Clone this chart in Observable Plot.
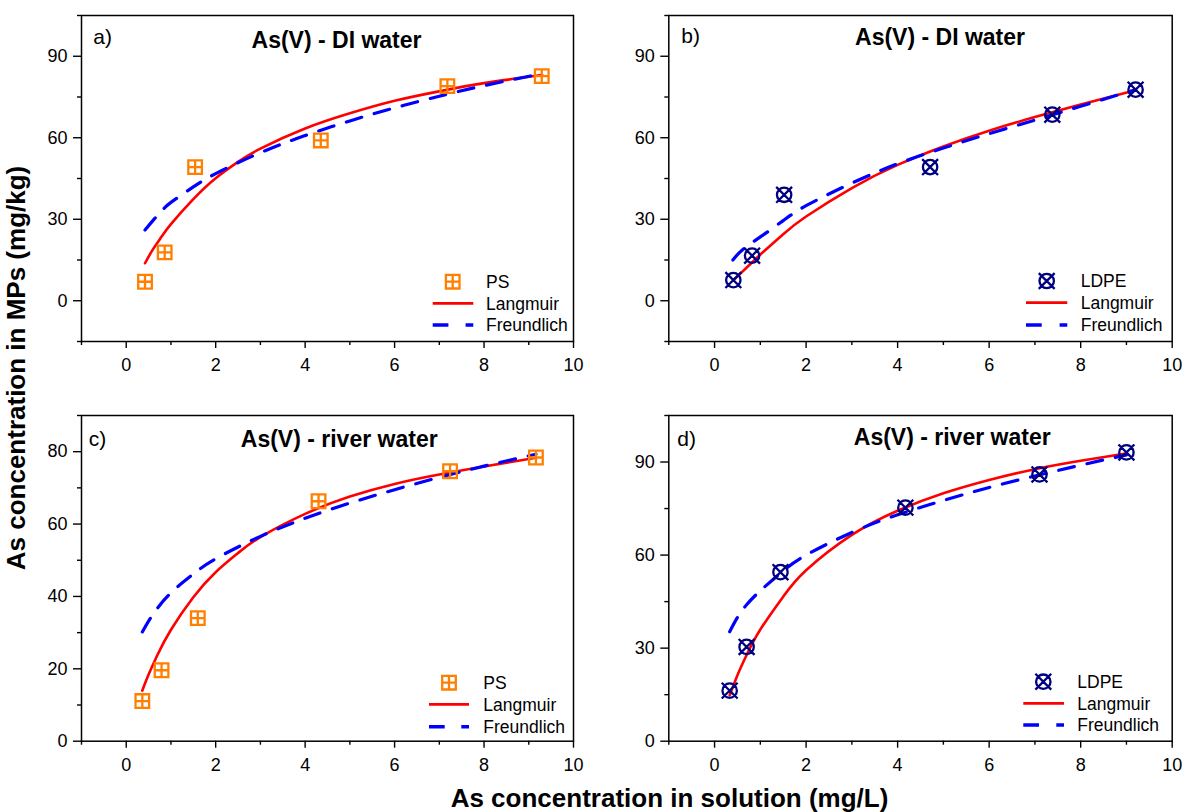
<!DOCTYPE html>
<html><head><meta charset="utf-8">
<script src="https://cdn.jsdelivr.net/npm/d3@7"></script>
<script src="https://cdn.jsdelivr.net/npm/@observablehq/plot@0.6"></script>
<style>
body{margin:0;background:#fff;}
#root{position:relative;width:1189px;height:812px;overflow:hidden;background:#fff;}
</style></head><body><div id="root"></div>
<script>
// ---------- DATA ----------
const xMajor = [0, 2, 4, 6, 8, 10];
const xMinor = [-1, 1, 3, 5, 7, 9];
const yMajor90 = [0, 30, 60, 90];
const yMinorAB = [-15, 15, 45, 75, 105];
const yMajorC = [0, 20, 40, 60, 80];
const yMinorC = [10, 30, 50, 70, 90];
const yMinorD = [15, 45, 75, 105];

const titles = ["As(V) - DI water", "As(V) - DI water", "As(V) - river water", "As(V) - river water"];
const letters = ["a)", "b)", "c)", "d)"];
const seriesNames = ["PS", "LDPE", "PS", "LDPE"];
const modelNames = ["Langmuir", "Freundlich"];
const xTitle = "As concentration in solution (mg/L)";
const yTitle = "As concentration in MPs (mg/kg)";

// a) PS, DI water
const aC = [0.42, 0.86, 1.54, 4.35, 7.18, 9.29];
const aQ = [7.0, 17.8, 49.2, 59.0, 79.0, 82.7];
const aLangC = [0.42, 0.6, 0.8, 1, 1.5, 2, 2.5, 3, 4, 5, 6, 7, 8, 9.3];
const aLangQ = [13.8, 19, 23.8, 28.2, 37.4, 45.1, 51.1, 56, 63.4, 69, 73.6, 77.1, 80.1, 83.1];
const aFreuC = [0.42, 0.6, 0.8, 1, 1.5, 2, 3, 4, 5, 6, 7, 8, 9.3];
const aFreuQ = [26, 29.6, 33.2, 36.2, 41.9, 46.8, 54.5, 60.8, 66.2, 71, 75.3, 79.2, 83.6];

// b) LDPE, DI water
const bC = [0.41, 0.82, 1.52, 4.71, 7.38, 9.2];
const bQ = [7.6, 16.6, 39.0, 49.2, 68.5, 77.7];
const bLangC = [0.41, 0.8, 1, 1.5, 2, 3, 4, 5, 6, 7, 8, 9.2];
const bLangQ = [7.5, 13.8, 17, 24.5, 31, 41.5, 50, 56.8, 62.6, 67.6, 72.2, 77.5];
const bFreuC = [0.4, 0.6, 1, 1.5, 2, 3, 4, 5, 6, 7, 8, 9.2];
const bFreuQ = [15, 18.6, 23.5, 29.5, 35, 43.3, 50.4, 56.2, 61.5, 66.5, 71.6, 77.7];

// c) PS, river water
const cC = [0.36, 0.79, 1.6, 4.3, 7.24, 9.16];
const cQ = [11.1, 19.6, 34.0, 66.3, 74.6, 78.4];
const cLangC = [0.36, 0.5, 0.7, 1, 1.5, 2, 2.5, 3, 4, 5, 6, 7, 8, 9.16];
const cLangQ = [14, 18.4, 23.9, 30.8, 39.8, 46.7, 52, 56.4, 62.8, 67.6, 71.1, 73.7, 75.9, 78.3];
const cFreuC = [0.36, 0.6, 1, 1.5, 2, 3, 4, 5, 6, 7, 8, 9.16];
const cFreuQ = [30.2, 35.1, 41, 46.2, 50.4, 56.6, 61.6, 65.8, 69.5, 72.9, 76, 79.3];

// d) LDPE, river water
const dC = [0.33, 0.70, 1.44, 4.17, 7.1, 9.0];
const dQ = [16.3, 30.4, 54.5, 75.3, 86.0, 93.1];
const dLangC = [0.33, 0.5, 0.7, 1, 1.5, 2, 3, 4, 5, 6, 7, 8, 9];
const dLangQ = [14.8, 21.3, 27.8, 36, 46.6, 55.1, 66.5, 74.3, 79.9, 84.2, 87.7, 90.4, 92.8];
const dFreuC = [0.33, 0.5, 0.7, 1, 1.5, 2, 3, 4, 5, 6, 7, 8, 9];
const dFreuQ = [35.3, 39.9, 44, 48.5, 54.9, 60, 67.3, 73, 77.6, 81.8, 85.5, 89, 92.3];

// ---------- STYLE / LAYOUT ----------
const FONT = '"Liberation Sans", Arial, Helvetica, sans-serif';
const ORANGE = "#ff8000", NAVY = "#000080", RED = "#ff0000", BLUE = "#0000ff";

const gridSquare = {
  draw(ctx, size) {
    const r = Math.sqrt(size / Math.PI);
    ctx.moveTo(-r, -r); ctx.lineTo(r, -r); ctx.lineTo(r, r); ctx.lineTo(-r, r); ctx.closePath();
    ctx.moveTo(0, -r); ctx.lineTo(0, r);
    ctx.moveTo(-r, 0); ctx.lineTo(r, 0);
  }
};
const crossCircle = {
  draw(ctx, size) {
    const r = Math.sqrt(size / Math.PI);
    ctx.moveTo(r, 0); ctx.arc(0, 0, r, 0, 2 * Math.PI);
    const k = r * 1.1;
    ctx.moveTo(-k, -k); ctx.lineTo(k, k);
    ctx.moveTo(-k, k); ctx.lineTo(k, -k);
  }
};

const zip = (xs, ys) => xs.map((c, i) => ({c, q: ys[i]}));

const panels = [
  {left: 40, top: 0, w: 560, h: 370, mt: 15, mr: 27, mb: 29, ml: 41,
   yDomain: [-15, 105], yMajor: yMajor90, yMinor: yMinorAB,
   pts: zip(aC, aQ), lang: zip(aLangC, aLangQ), freu: zip(aFreuC, aFreuQ),
   symbol: gridSquare, r: 6.8, color: ORANGE, title: titles[0], letter: letters[0], name: seriesNames[0],
   tdx: 9, tdy: 32.5, ldx: 11.7, ldy: 28.3,
   lg: {mx: -120.3, tx: -87, x0: -140.3, x1: -99.7, rows: [-59.3, -37.7, -16]}},
  {left: 628, top: 0, w: 560, h: 370, mt: 15, mr: 16.3, mb: 29, ml: 40.3,
   yDomain: [-15, 105], yMajor: yMajor90, yMinor: yMinorAB,
   pts: zip(bC, bQ), lang: zip(bLangC, bLangQ), freu: zip(bFreuC, bFreuQ),
   symbol: crossCircle, r: 7.2, color: NAVY, title: titles[1], letter: letters[1], name: seriesNames[1],
   tdx: 19.5, tdy: 29.5, ldx: 12.4, ldy: 27.7,
   lg: {mx: -125, tx: -91, x0: -145.7, x1: -104.4, rows: [-60, -38.3, -16]}},
  {left: 40, top: 390, w: 560, h: 380, mt: 25, mr: 27, mb: 29.3, ml: 41,
   yDomain: [0, 90], yMajor: yMajorC, yMinor: yMinorC,
   pts: zip(cC, cQ), lang: zip(cLangC, cLangQ), freu: zip(cFreuC, cFreuQ),
   symbol: gridSquare, r: 6.8, color: ORANGE, title: titles[2], letter: letters[2], name: seriesNames[2],
   tdx: 11.7, tdy: 31, ldx: 7.3, ldy: 30,
   lg: {mx: -124, tx: -89.7, x0: -144, x1: -104, rows: [-58, -36.4, -14]}},
  {left: 628, top: 390, w: 560, h: 380, mt: 25, mr: 16.3, mb: 29.3, ml: 40.3,
   yDomain: [0, 105], yMajor: yMajor90, yMinor: yMinorD,
   pts: zip(dC, dQ), lang: zip(dLangC, dLangQ), freu: zip(dFreuC, dFreuQ),
   symbol: crossCircle, r: 7.2, color: NAVY, title: titles[3], letter: letters[3], name: seriesNames[3],
   tdx: 31.7, tdy: 29.5, ldx: 8.4, ldy: 30,
   lg: {mx: -128.4, tx: -94.4, x0: -148.4, x1: -107.7, rows: [-59, -37.4, -15.7]}}
];

const root = document.getElementById("root");

for (const p of panels) {
  const svg = Plot.plot({
    width: p.w, height: p.h,
    marginTop: p.mt, marginRight: p.mr, marginBottom: p.mb, marginLeft: p.ml,
    x: {domain: [-1, 10]},
    y: {domain: p.yDomain},
    style: {fontFamily: FONT, fontSize: "18px", color: "#000", background: "transparent", overflow: "visible"},
    marks: [
      Plot.axisX(xMinor, {tickSize: 4, tickFormat: () => "", label: null, strokeWidth: 1.4}),
      Plot.axisX(xMajor, {tickSize: 7, tickPadding: 10, label: null, strokeWidth: 1.4, fontSize: 18}),
      Plot.axisY(p.yMinor, {tickSize: 4, tickFormat: () => "", label: null, strokeWidth: 1.4}),
      Plot.axisY(p.yMajor, {tickSize: 8, tickPadding: 6, label: null, strokeWidth: 1.4, fontSize: 18}),
      Plot.line(p.lang, {x: "c", y: "q", stroke: RED, strokeWidth: 2.6, curve: "natural"}),
      Plot.line(p.freu, {x: "c", y: "q", stroke: BLUE, strokeWidth: 3.2, strokeDasharray: "16,13", curve: "natural"}),
      Plot.dot(p.pts, {x: "c", y: "q", symbol: p.symbol, r: p.r, stroke: p.color, strokeWidth: 2.3, fill: "none"}),
      Plot.frame({stroke: "#000", strokeWidth: 1.5}),
      Plot.text([p.title], {frameAnchor: "top", dx: p.tdx, dy: p.tdy, lineAnchor: "bottom", fontSize: 23, fontWeight: "bold"}),
      Plot.text([p.letter], {frameAnchor: "top-left", textAnchor: "start", dx: p.ldx, dy: p.ldy, lineAnchor: "bottom", fontSize: 21})
    ]
  });
  svg.style.position = "absolute";
  svg.style.left = p.left + "px";
  svg.style.top = p.top + "px";
  svg.style.maxWidth = "none";

  // legend
  const R = p.w - p.mr, B = p.h - p.mb;
  const g = d3.select(svg).append("g")
    .attr("font-family", FONT).attr("font-size", 17.5).attr("fill", "#000").attr("text-anchor", "start");
  g.append("path")
    .attr("d", d3.symbol(p.symbol, Math.PI * p.r * p.r)())
    .attr("transform", `translate(${R + p.lg.mx},${B + p.lg.rows[0]})`)
    .attr("fill", "none").attr("stroke", p.color).attr("stroke-width", 2.3);
  g.append("line")
    .attr("x1", R + p.lg.x0).attr("x2", R + p.lg.x1)
    .attr("y1", B + p.lg.rows[1]).attr("y2", B + p.lg.rows[1])
    .attr("stroke", RED).attr("stroke-width", 2.8);
  g.append("path")
    .attr("d", `M${R + p.lg.x0},${B + p.lg.rows[2]}h15.7M${R + p.lg.x1 - 7.7},${B + p.lg.rows[2]}h7.7`)
    .attr("stroke", BLUE).attr("stroke-width", 3.4).attr("fill", "none");
  const labels = [p.name, modelNames[0], modelNames[1]];
  labels.forEach((t, i) => {
    g.append("text").attr("x", R + p.lg.tx).attr("y", B + p.lg.rows[i]).attr("dy", "0.36em")
      .attr("text-anchor", "start").text(t);
  });

  root.appendChild(svg);
}

// shared axis titles
const ov = d3.select(root).append("svg")
  .attr("width", 1189).attr("height", 812)
  .style("position", "absolute").style("left", "0px").style("top", "0px")
  .attr("font-family", FONT).attr("font-weight", "bold").attr("font-size", 26).attr("fill", "#000");
ov.append("text").attr("x", 669.5).attr("y", 806.5).attr("text-anchor", "middle").text(xTitle);
ov.append("text").attr("transform", "translate(25,368) rotate(-90)").attr("text-anchor", "middle").text(yTitle);
</script>
</body></html>
